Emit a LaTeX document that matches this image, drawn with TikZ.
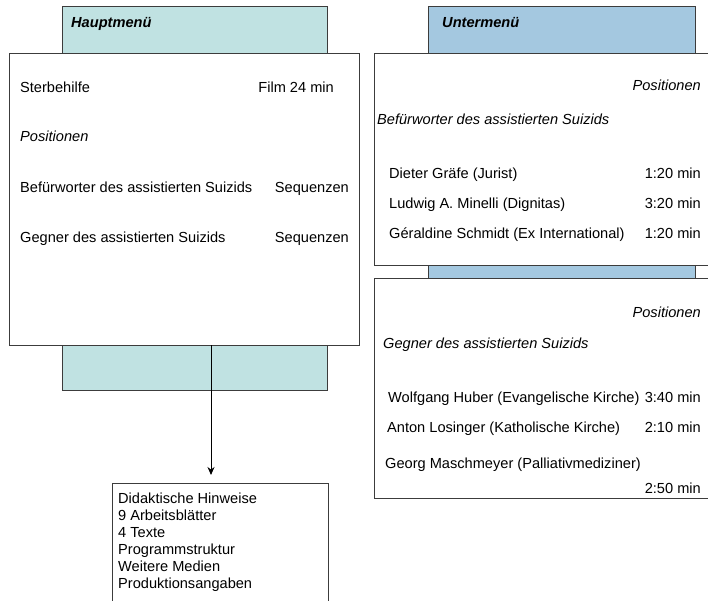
\documentclass[tikz,border=0pt]{standalone}
\usepackage{fontspec}
\setmainfont{Liberation Sans}
\usetikzlibrary{arrows.meta}
\definecolor{hauptfarbe}{RGB}{192,226,226}
\definecolor{unterfarbe}{RGB}{164,200,224}
\definecolor{rahmen}{RGB}{60,60,60}
\tikzset{
  kasten/.style={draw=rahmen, line width=1pt, inner sep=0pt, outer sep=0pt, anchor=north west},
  txt/.style={inner sep=0pt, font=\fontsize{14.6}{17}\selectfont},
  kurs/.style={txt, font=\fontsize{14.6}{17}\selectfont\itshape},
}

\begin{document}
\begin{tikzpicture}[x=1pt,y=-1pt]
  \clip (0,0) rectangle (708,601);
  \fill[white] (0,0) rectangle (708,601);
  % Reiter
  \node[kasten, fill=hauptfarbe, minimum width=265, minimum height=60] (hreiter) at (62,7) {};
  \node[kasten, fill=hauptfarbe, minimum width=265, minimum height=60] (ureiter) at (62,330) {};
  \node[kasten, fill=unterfarbe, minimum width=267, minimum height=60] (ereiter) at (428,7) {};
  \node[kasten, fill=unterfarbe, minimum width=267, minimum height=30] (zreiter) at (428,255) {};
  % Kaesten
  \node[kasten, fill=white, minimum width=350, minimum height=291] (haupt) at (9,54) {};
  \node[kasten, fill=white, minimum width=350, minimum height=211] (befuer) at (374,54) {};
  \node[kasten, fill=white, minimum width=350, minimum height=220] (gegner) at (374,278) {};
  \node[kasten, fill=white, minimum width=216, minimum height=140] (liste) at (112,483) {};

  \node[txt, anchor=base west, font=\fontsize{14.6}{17}\selectfont\bfseries\itshape] (htitel) at (71,28) {Hauptmenü};
  \node[txt, anchor=base west, font=\fontsize{14.6}{17}\selectfont\bfseries\itshape] (utitel) at (442,28) {Untermenü};

  % Hauptmenue
  \node[txt, anchor=base west] (sterbe) at (20,93) {Sterbehilfe};
  \node[txt, anchor=base east] (film) at (334,93) {Film 24 min};
  \node[kurs, anchor=base west] (hpos) at (20,142) {Positionen};
  \node[txt, anchor=base west] (hbef) at (20,193) {Befürworter des assistierten Suizids};
  \node[txt, anchor=base east] (hseq1) at (349,193) {Sequenzen};
  \node[txt, anchor=base west] (hgeg) at (20,243) {Gegner des assistierten Suizids};
  \node[txt, anchor=base east] (hseq2) at (349,243) {Sequenzen};

  % Befuerworter
  \node[kurs, anchor=base east] (bpos) at (701,91) {Positionen};
  \node[kurs, anchor=base west] (btitel) at (377,125) {Befürworter des assistierten Suizids};
  \node[txt, anchor=base west] (b1) at (389,179) {Dieter Gräfe (Jurist)};
  \node[txt, anchor=base east] (b1z) at (701,179) {1:20 min};
  \node[txt, anchor=base west] (b2) at (389,209) {Ludwig A. Minelli (Dignitas)};
  \node[txt, anchor=base east] (b2z) at (701,209) {3:20 min};
  \node[txt, anchor=base west] (b3) at (389,239) {Géraldine Schmidt (Ex International)};
  \node[txt, anchor=base east] (b3z) at (701,239) {1:20 min};

  % Gegner
  \node[kurs, anchor=base east] (gpos) at (701,317) {Positionen};
  \node[kurs, anchor=base west] (gtitel) at (383,348) {Gegner des assistierten Suizids};
  \node[txt, anchor=base west] (g1) at (388,402) {Wolfgang Huber (Evangelische Kirche)};
  \node[txt, anchor=base east] (g1z) at (701,402) {3:40 min};
  \node[txt, anchor=base west] (g2) at (387,432) {Anton Losinger (Katholische Kirche)};
  \node[txt, anchor=base east] (g2z) at (701,432) {2:10 min};
  \node[txt, anchor=base west] (g3) at (385,468) {Georg Maschmeyer (Palliativmediziner)};
  \node[txt, anchor=base east] (g3z) at (701,493) {2:50 min};

  % Materialien
  \node[txt, anchor=north west, align=left] (mat) at (118,492.5)
    {Didaktische Hinweise\\9 Arbeitsblätter\\4 Texte\\Programmstruktur\\Weitere Medien\\Produktionsangaben};

  \coordinate (start) at (211,345);
  \draw[-{Stealth[length=8pt,width=7pt]}, line width=1pt] (start) -- ([yshift=8pt]start |- liste.north);
\end{tikzpicture}
\end{document}
